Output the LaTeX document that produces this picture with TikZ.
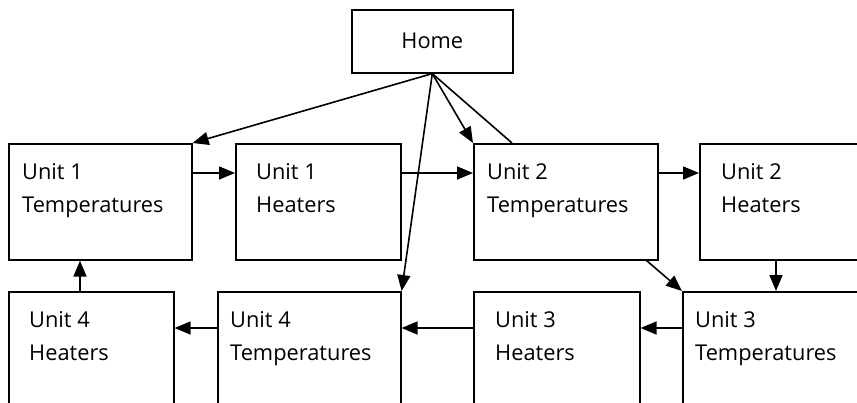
\documentclass[tikz,border=0pt]{standalone}
\usepackage{fontspec}
\setmainfont{Open Sans}
\usetikzlibrary{arrows.meta}
\usetikzlibrary{calc}

\tikzset{
  box/.style={draw=black,line width=1.6pt,rectangle,inner sep=0pt,anchor=north west,minimum height=116pt},
  lbl/.style={font=\fontsize{21.8}{33}\selectfont,text=black,align=left,inner sep=0pt,anchor=base west},
  link/.style={draw=black,line width=1.6pt,-{Triangle[length=16pt,width=13pt]}}
}

\begin{document}
\begin{tikzpicture}[x=1pt,y=-1pt]
\useasboundingbox (0,0) rectangle (857,402);
\clip (0,0) rectangle (857,402);

% top
\node[draw=black,line width=1.6pt,rectangle,inner sep=0pt,anchor=north west,minimum width=161pt,minimum height=63pt,font=\fontsize{21.8}{33}\selectfont] (home) at (351,9) {Home};

% first row
\node[box,minimum width=183pt] (u1t) at (8,143) {};
\node[box,minimum width=165pt] (u1h) at (235,143) {};
\node[box,minimum width=184pt] (u2t) at (473,143) {};
\node[box,minimum width=184pt] (u2h) at (699,143) {};

% second row
\node[box,minimum width=165pt] (u4h) at (8,291) {};
\node[box,minimum width=183pt] (u4t) at (217,291) {};
\node[box,minimum width=166pt] (u3h) at (473,291) {};
\node[box,minimum width=184pt] (u3t) at (682,291) {};

\node[lbl] (u1t-txt) at ([xshift=14pt,yshift=-69pt]u1t.north west) {Unit 1\\Temperatures};
\node[lbl] (u1h-txt) at ([xshift=21pt,yshift=-69pt]u1h.north west) {Unit 1\\Heaters};
\node[lbl] (u2t-txt) at ([xshift=14pt,yshift=-69pt]u2t.north west) {Unit 2\\Temperatures};
\node[lbl] (u2h-txt) at ([xshift=22pt,yshift=-69pt]u2h.north west) {Unit 2\\Heaters};
\node[lbl] (u4h-txt) at ([xshift=21pt,yshift=-69pt]u4h.north west) {Unit 4\\Heaters};
\node[lbl] (u4t-txt) at ([xshift=13pt,yshift=-69pt]u4t.north west) {Unit 4\\Temperatures};
\node[lbl] (u3h-txt) at ([xshift=22pt,yshift=-69pt]u3h.north west) {Unit 3\\Heaters};
\node[lbl] (u3t-txt) at ([xshift=13pt,yshift=-69pt]u3t.north west) {Unit 3\\Temperatures};

% from home
\draw[link] (home.south) -- (u1t.north east);
\draw[link] (home.south) -- (u4t.north east);
\draw[link] (home.south) -- (u2t.north west);
\draw[black,line width=1.6pt] (home.south) -- ([xshift=39pt]u2t.north west);

% around the loop
\draw[link] (u1t.east |- 0,173) -- (u1h.west |- 0,173);
\draw[link] (u1h.east |- 0,173) -- (u2t.west |- 0,173);
\draw[link] (u2t.east |- 0,173) -- (u2h.west |- 0,173);
\draw[link] (u2h.south -| 776,0) -- (u3t.north -| 776,0);
\draw[link] ([xshift=-12pt]u2t.south east) -- (u3t.north west);
\draw[link] (u3t.west |- 0,328) -- (u3h.east |- 0,328);
\draw[link] (u3h.west |- 0,328) -- (u4t.east |- 0,328);
\draw[link] (u4t.west |- 0,328) -- (u4h.east |- 0,328);
\draw[link] (u4h.north -| 80,0) -- (u1t.south -| 80,0);

\end{tikzpicture}
\end{document}
